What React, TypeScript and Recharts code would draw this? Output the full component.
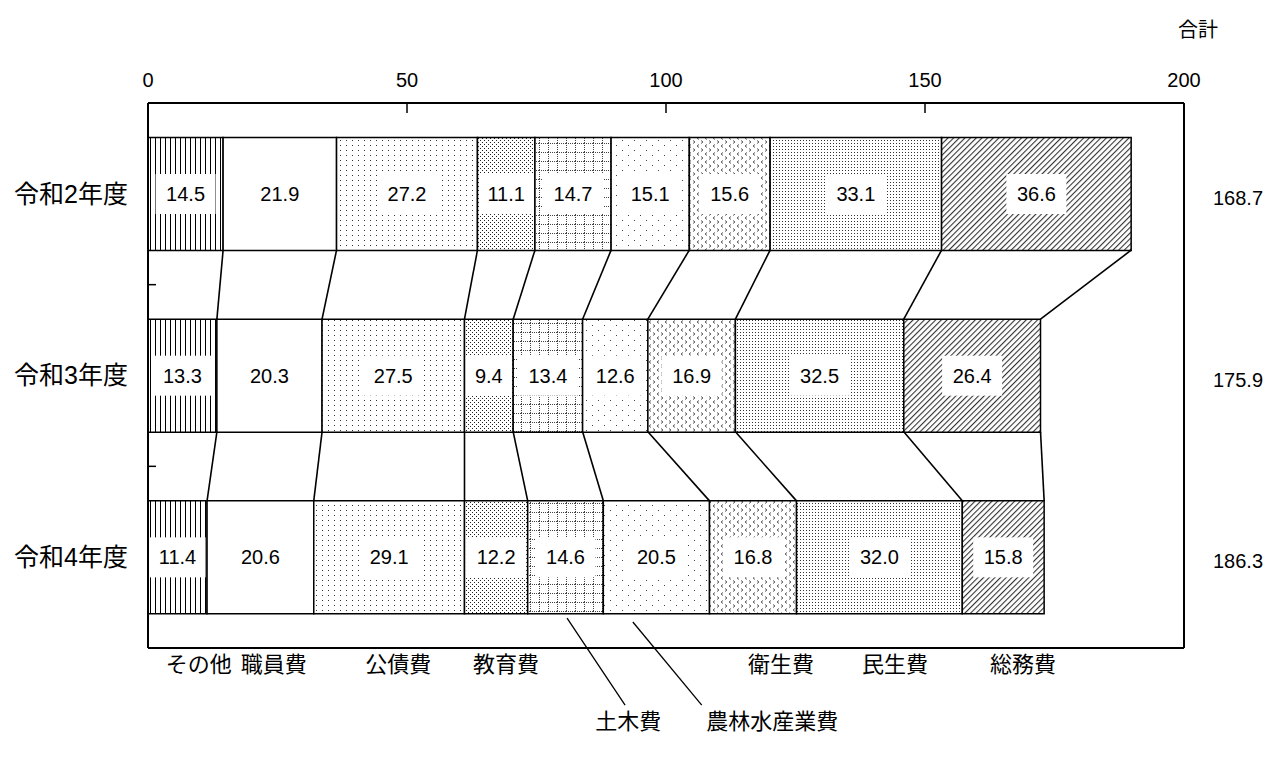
import React from 'react';
import { BarChart, Bar, XAxis, YAxis, ReferenceLine, LabelList } from 'recharts';

// ---- data ----
const years = ['令和2年度', '令和3年度', '令和4年度'];
const sonota = [14.5, 13.3, 11.4];
const shokuin = [21.9, 20.3, 20.6];
const kosai = [27.2, 27.5, 29.1];
const kyoiku = [11.1, 9.4, 12.2];
const doboku = [14.7, 13.4, 14.6];
const norin = [15.1, 12.6, 20.5];
const eisei = [15.6, 16.9, 16.8];
const minsei = [33.1, 32.5, 32.0];
const somu = [36.6, 26.4, 15.8];
const totals = ['168.7', '175.9', '186.3'];
const xTicks = [0, 50, 100, 150, 200];

const seriesNames = ['その他', '職員費', '公債費', '教育費', '土木費', '農林水産業費', '衛生費', '民生費', '総務費'];
const seriesValues = [sonota, shokuin, kosai, kyoiku, doboku, norin, eisei, minsei, somu];

// band units: 0 = plot top, years.length = plot bottom; converted to the helper axis domain
const NUM_MAX = years.length - 1;
const toNum = (u: number) => (u * NUM_MAX) / years.length;

// label anchors (x in axis units, y in band units)
const bottomNames = ['その他', '職員費', '公債費', '教育費', '衛生費', '民生費', '総務費'];
const bottomPos = [9.8, 24.3, 48.3, 69.1, 122.2, 144.2, 168.9];
const bottom2Names = ['土木費', '農林水産業費'];
const bottom2Pos = [92.7, 120.5];
const bandTicks = [1, 2].map(toNum);
const leaderBand = [
  [{ x: 80.9, y: 2.835 }, { x: 92.1, y: 3.314 }],
  [{ x: 93.6, y: 2.857 }, { x: 106.9, y: 3.314 }],
];
const leaders = leaderBand.map((seg) => seg.map((p) => ({ x: p.x, y: toNum(p.y) })));

const patternIds = ['pVert', 'pWhite', 'pDotSparse', 'pDotDense', 'pGrid', 'pScatter', 'pChevron', 'pStipple', 'pDiag'];
const GAP = 0.19;

const data = years.map((y, i) => {
  const row: any = { year: y, total: totals[i] };
  seriesNames.forEach((n, k) => {
    row[n] = seriesValues[k][i];
  });
  return row;
});

const cums = years.map((_, i) => {
  let s = 0;
  return seriesValues.map((v) => (s += v[i]));
});

const connectors: { x1: number; y1: number; x2: number; y2: number }[] = [];
for (let i = 0; i < years.length - 1; i++) {
  for (let k = 0; k < seriesNames.length; k++) {
    connectors.push({
      x1: cums[i][k],
      y1: toNum(i + 1 - GAP),
      x2: cums[i + 1][k],
      y2: toNum(i + 1 + GAP),
    });
  }
}

const makeLabel = (k: number) => (props: any) => {
  const vb = props.viewBox && props.viewBox.width !== undefined ? props.viewBox : props;
  const { x, y, width, height } = vb;
  const idx = props.index;
  const v = seriesValues[k][idx];
  if (v === undefined) return null;
  const bw = Math.min(60, width - 3);
  const bh = 40;
  const cx = x + width / 2;
  const cy = y + height / 2;
  return (
    <g>
      <rect x={cx - bw / 2} y={cy - bh / 2} width={bw} height={bh} fill="#fff" />
      <text x={cx} y={cy + 7} textAnchor="middle" fontSize={20} fill="#000">
        {v.toFixed(1)}
      </text>
    </g>
  );
};

const HeaderLabel = (props: any) => {
  const vb = props.viewBox || {};
  return (
    <text x={vb.x + 14} y={vb.y - 66} textAnchor="middle" fontSize={20} fill="#000">
      合計
    </text>
  );
};

export default function App() {
  return (
    <div style={{ width: 1260, height: 748, fontFamily: "'Liberation Sans', 'Noto Sans CJK JP', sans-serif" }}>
      <BarChart
        width={1260}
        height={748}
        data={data}
        layout="vertical"
        barCategoryGap="19%"
        margin={{ top: 55, right: 0, bottom: 18, left: 0 }}
      >
        <defs>
          <pattern id="pVert" width="5" height="10" patternUnits="userSpaceOnUse">
            <rect width="5" height="10" fill="#fff" />
            <line x1="2.5" y1="0" x2="2.5" y2="10" stroke="#000" strokeWidth="1" />
          </pattern>
          <pattern id="pWhite" width="4" height="4" patternUnits="userSpaceOnUse">
            <rect width="4" height="4" fill="#fff" />
          </pattern>
          <pattern id="pDotSparse" width="6" height="5" patternUnits="userSpaceOnUse">
            <rect width="6" height="5" fill="#fff" />
            <rect x="2" y="2" width="1" height="1" fill="#333" />
          </pattern>
          <pattern id="pDotDense" width="4" height="4" patternUnits="userSpaceOnUse">
            <rect width="4" height="4" fill="#fff" />
            <rect x="0" y="0" width="1" height="1" fill="#222" />
            <rect x="2" y="2" width="1" height="1" fill="#222" />
          </pattern>
          <pattern id="pGrid" width="9" height="9" patternUnits="userSpaceOnUse">
            <rect width="9" height="9" fill="#fff" />
            <line x1="0.5" y1="0" x2="0.5" y2="9" stroke="#444" strokeWidth="1" strokeDasharray="1 1" />
            <line x1="0" y1="0.5" x2="9" y2="0.5" stroke="#444" strokeWidth="1" strokeDasharray="1 1" />
          </pattern>
          <pattern id="pScatter" width="12" height="10" patternUnits="userSpaceOnUse">
            <rect width="12" height="10" fill="#fff" />
            <rect x="2" y="2" width="1" height="1" fill="#444" />
            <rect x="8" y="7" width="1" height="1" fill="#444" />
          </pattern>
          <pattern id="pChevron" width="8" height="8" patternUnits="userSpaceOnUse">
            <rect width="8" height="8" fill="#fff" />
            <path d="M3 0.5 L1 2 L3 3.5" stroke="#333" strokeWidth="0.8" fill="none" />
            <path d="M5 4.5 L7 6 L5 7.5" stroke="#333" strokeWidth="0.8" fill="none" />
          </pattern>
          <pattern id="pStipple" width="3" height="3" patternUnits="userSpaceOnUse">
            <rect width="3" height="3" fill="#fff" />
            <rect x="0" y="0" width="1" height="1" fill="#333" />
          </pattern>
          <pattern id="pDiag" width="4" height="4" patternUnits="userSpaceOnUse" patternTransform="rotate(45)">
            <rect width="4" height="4" fill="#fff" />
            <line x1="0.5" y1="0" x2="0.5" y2="4" stroke="#333" strokeWidth="1.2" />
          </pattern>
        </defs>

        <XAxis
          xAxisId="top"
          orientation="top"
          type="number"
          domain={[0, 200]}
          allowDataOverflow
          ticks={xTicks}
          interval={0}
          height={40}
          tickSize={-10}
          tickMargin={26}
          axisLine={{ stroke: '#000', strokeWidth: 2 }}
          tickLine={{ stroke: '#000', strokeWidth: 1.5 }}
          tick={{ fill: '#000', fontSize: 20 }}
        />
        <XAxis
          xAxisId="b1"
          orientation="bottom"
          type="number"
          domain={[0, 200]}
          allowDataOverflow
          ticks={bottomPos}
          interval={0}
          tickFormatter={(v: number) => bottomNames[bottomPos.indexOf(v)] ?? ''}
          height={40}
          tickSize={0}
          tickMargin={8}
          tickLine={false}
          axisLine={{ stroke: '#000', strokeWidth: 2 }}
          tick={{ fill: '#000', fontSize: 22 }}
        />
        <XAxis
          xAxisId="b2"
          orientation="bottom"
          type="number"
          domain={[0, 200]}
          allowDataOverflow
          ticks={bottom2Pos}
          interval={0}
          tickFormatter={(v: number) => bottom2Names[bottom2Pos.indexOf(v)] ?? ''}
          height={50}
          tickSize={0}
          tickMargin={25}
          tickLine={false}
          axisLine={false}
          tick={{ fill: '#000', fontSize: 22 }}
        />
        <YAxis
          yAxisId="cat"
          type="category"
          dataKey="year"
          width={140}
          tickSize={0}
          tickMargin={20}
          tickLine={false}
          axisLine={{ stroke: '#000', strokeWidth: 2 }}
          tick={{ fill: '#000', fontSize: 25 }}
        />
        <YAxis
          yAxisId="num"
          type="number"
          domain={[0, NUM_MAX]}
          allowDataOverflow
          ticks={bandTicks}
          interval={0}
          mirror
          tickSize={8}
          axisLine={false}
          tickLine={{ stroke: '#000', strokeWidth: 1.5 }}
          tickFormatter={() => ''}
        />
        <YAxis
          yAxisId="tot"
          orientation="right"
          type="category"
          dataKey="total"
          width={84}
          tickSize={0}
          tickMargin={29}
          tickLine={false}
          axisLine={{ stroke: '#000', strokeWidth: 2 }}
          tick={{ fill: '#000', fontSize: 20, dy: 4 }}
          label={<HeaderLabel />}
        />

        {seriesNames.map((n, k) => (
          <Bar
            key={n}
            dataKey={n}
            stackId="a"
            xAxisId="top"
            yAxisId="cat"
            fill={`url(#${patternIds[k]})`}
            stroke="#000"
            strokeWidth={1.5}
            isAnimationActive={false}
          >
            <LabelList dataKey={n} content={makeLabel(k)} />
          </Bar>
        ))}

        {connectors.map((c, i) => (
          <ReferenceLine
            key={`c${i}`}
            xAxisId="top"
            yAxisId="num"
            segment={[{ x: c.x1, y: c.y1 }, { x: c.x2, y: c.y2 }]}
            stroke="#000"
            strokeWidth={1.6}
            ifOverflow="visible"
          />
        ))}
        {leaders.map((seg, i) => (
          <ReferenceLine
            key={`l${i}`}
            xAxisId="top"
            yAxisId="num"
            segment={seg}
            stroke="#000"
            strokeWidth={1.3}
            ifOverflow="visible"
          />
        ))}
      </BarChart>
    </div>
  );
}
